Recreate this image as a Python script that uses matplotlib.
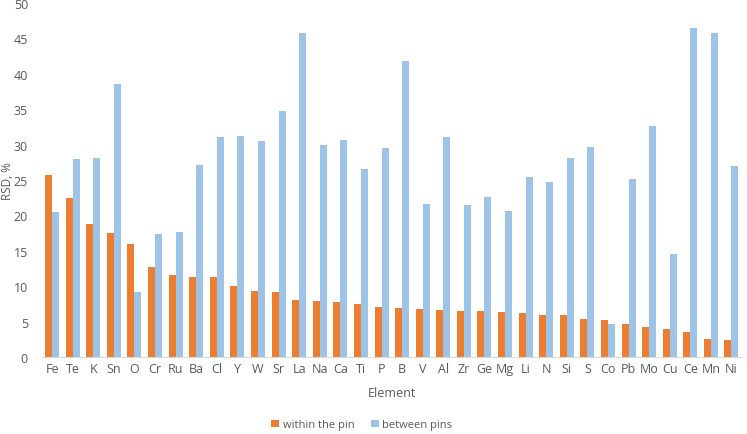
import numpy as np
import matplotlib.pyplot as plt

plt.rcParams['font.family'] = ['Open Sans', 'DejaVu Sans']

elements = ['Fe', 'Te', 'K', 'Sn', 'O', 'Cr', 'Ru', 'Ba', 'Cl', 'Y', 'W', 'Sr', 'La',
            'Na', 'Ca', 'Ti', 'P', 'B', 'V', 'Al', 'Zr', 'Ge', 'Mg', 'Li', 'N', 'Si',
            'S', 'Co', 'Pb', 'Mo', 'Cu', 'Ce', 'Mn', 'Ni']
within_pin = [25.7, 22.4, 18.8, 17.5, 15.9, 12.7, 11.6, 11.3, 11.3, 10.0, 9.3, 9.2, 8.0,
              7.9, 7.7, 7.5, 7.1, 6.9, 6.8, 6.7, 6.5, 6.5, 6.4, 6.2, 6.0, 5.9,
              5.4, 5.2, 4.6, 4.2, 3.9, 3.6, 2.5, 2.4]
between_pins = [20.5, 27.9, 28.1, 38.5, 9.2, 17.3, 17.7, 27.1, 31.1, 31.2, 30.5, 34.8, 45.8,
                30.0, 30.7, 26.6, 29.5, 41.8, 21.6, 31.0, 21.4, 22.6, 20.6, 25.4, 24.7, 28.1,
                29.7, 4.6, 25.2, 32.6, 14.5, 46.5, 45.7, 27.0]

orange = '#ED7D31'
blue = '#9DC3E6'
grey = '#595959'

fig = plt.figure(figsize=(7.47, 4.35), dpi=100)
ax = fig.add_axes([0.056, 0.177, 0.937, 0.814])

x = np.arange(len(elements))
w = 0.34
ax.bar(x - w/2, within_pin, w, color=orange, label='within the pin')
ax.bar(x + w/2, between_pins, w, color=blue, label='between pins')

ax.set_xlim(-0.5, len(elements) - 0.5)
ax.set_ylim(0, 50)
ax.set_yticks(np.arange(0, 51, 5))
ax.set_xticks(x)
ax.set_xticklabels(elements)
ax.tick_params(length=0, labelsize=9, colors=grey)
ax.tick_params(axis='y', pad=10)

for s in ['top', 'right', 'left']:
    ax.spines[s].set_visible(False)
ax.spines['bottom'].set_color('#D9D9D9')

ax.set_ylabel('RSD, %', fontsize=8.5, color=grey)
ax.yaxis.set_label_coords(-0.04, 0.5)
ax.set_xlabel('Element', fontsize=9, color=grey, labelpad=8)

ax.legend(loc='upper center', bbox_to_anchor=(0.457, -0.148), ncol=2, frameon=False,
          fontsize=8, labelcolor=grey, handlelength=0.7, handleheight=0.7,
          columnspacing=1.5, handletextpad=0.3)

fig.savefig('out.png', dpi=100)
